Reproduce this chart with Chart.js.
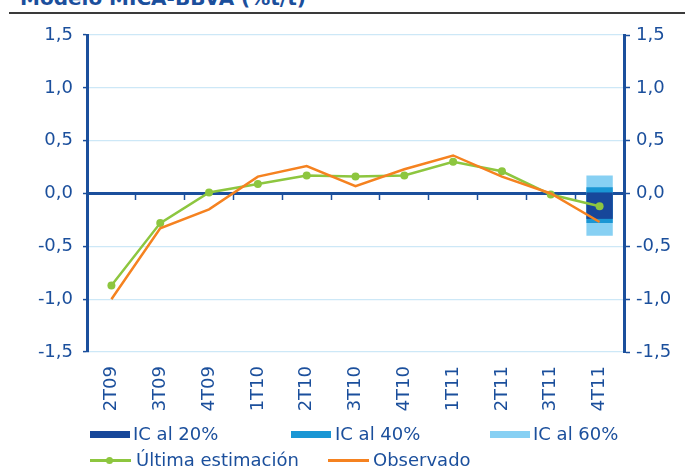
<!DOCTYPE html>
<html>
<head>
<meta charset="utf-8">
<script src="https://cdn.jsdelivr.net/npm/chart.js@4.4.1/dist/chart.umd.min.js"></script>
<style>
  html, body { margin: 0; padding: 0; background: #fff; }
  body { width: 685px; height: 469px; position: relative; overflow: hidden; font-family: "DejaVu Sans", sans-serif; }
  #title { position: absolute; left: 20px; top: -14px; font-size: 20px; font-weight: bold; color: #1B4F9C; white-space: nowrap; }
  #rule { position: absolute; left: 9px; right: 0; top: 12px; height: 2px; background: #3a3a3a; }
  #wrap { position: absolute; left: 0; top: 0; width: 685px; height: 469px; }
  .leg { position: absolute; font-size: 18px; color: #1B4F9C; white-space: nowrap; line-height: 20px; }
  .leg .box { position: absolute; left: 0; top: 7px; width: 40px; height: 7px; }
  .leg .ln { position: absolute; left: 0; top: 9px; width: 41px; height: 3px; }
  .leg .dot { position: absolute; left: 16px; top: 7px; width: 7px; height: 7px; border-radius: 50%; }
  .leg span.t { position: absolute; top: 0; }
</style>
</head>
<body>
<div id="title">Modelo MICA-BBVA (%t/t)</div>
<div id="rule"></div>
<div id="wrap"><canvas id="chart" width="685" height="469"></canvas></div>
<div id="legend"></div>
<script>
const categories = ['2T09', '3T09', '4T09', '1T10', '2T10', '3T10', '4T10', '1T11', '2T11', '3T11', '4T11'];
const ultimaEstimacion = [-0.87, -0.28, 0.01, 0.09, 0.17, 0.16, 0.17, 0.30, 0.21, -0.01, -0.12];
const observado = [-1.00, -0.33, -0.15, 0.16, 0.26, 0.07, 0.23, 0.36, 0.16, 0.00, -0.27];
// confidence intervals for the last quarter only: [low, high]
const ic20 = [-0.24, 0.01];
const ic40 = [-0.28, 0.06];
const ic60 = [-0.40, 0.17];
const yTicks = [-1.5, -1.0, -0.5, 0.0, 0.5, 1.0, 1.5];

const blue = '#1B4F9C';
const gridBlue = '#CDE8F7';
const green = '#8DC63F';
const orange = '#F58220';
const c20 = '#17479A';
const c40 = '#1A96D4';
const c60 = '#87D0F3';
const tickFont = { size: 18, family: '"DejaVu Sans", sans-serif' };

function lastOnly(range) {
  return categories.map((c, i) => i === categories.length - 1 ? range : null);
}
function fmt(v) {
  return v.toFixed(1).replace('.', ',');
}

const barOpts = { type: 'bar', grouped: false, categoryPercentage: 1, barPercentage: 0.54, borderWidth: 0 };

new Chart(document.getElementById('chart'), {
  data: {
    labels: categories,
    datasets: [
      { type: 'line', label: 'Última estimación', data: ultimaEstimacion, borderColor: green, backgroundColor: green,
        borderWidth: 2.5, pointRadius: 4, pointHoverRadius: 4, pointBorderWidth: 0, tension: 0, order: 1 },
      { type: 'line', label: 'Observado', data: observado, borderColor: orange, backgroundColor: orange,
        borderWidth: 2.5, pointRadius: 0, tension: 0, order: 0 },
      Object.assign({ label: 'IC al 20%', data: lastOnly(ic20), backgroundColor: c20, order: 2 }, barOpts),
      Object.assign({ label: 'IC al 40%', data: lastOnly(ic40), backgroundColor: c40, order: 3 }, barOpts),
      Object.assign({ label: 'IC al 60%', data: lastOnly(ic60), backgroundColor: c60, order: 4 }, barOpts)
    ]
  },
  options: {
    responsive: false,
    animation: false,
    layout: { padding: { top: 35, left: 0, right: 0, bottom: 57 } },
    plugins: { legend: { display: false }, tooltip: { enabled: false } },
    scales: {
      x: {
        type: 'category',
        offset: true,
        grid: { display: false },
        border: { display: false },
        ticks: { color: blue, font: tickFont, minRotation: 90, maxRotation: 90, autoSkip: false, padding: 6 },
        afterFit: s => { s.height = 60; }
      },
      x2: {
        type: 'category',
        labels: categories,
        offset: true,
        position: { y: 0 },
        grid: { offset: true, drawOnChartArea: false, drawTicks: true, tickLength: 6, tickColor: blue, tickWidth: 1.5 },
        border: { display: false },
        ticks: { display: false }
      },
      y: {
        position: 'left',
        min: -1.5, max: 1.5,
        afterBuildTicks: s => { s.ticks = yTicks.map(v => ({ value: v })); },
        grid: {
          color: c => c.tick && c.tick.value === 0 ? blue : gridBlue,
          lineWidth: c => c.tick && c.tick.value === 0 ? 3 : 1.2,
          tickColor: blue, tickLength: 4, tickWidth: 1.5
        },
        border: { display: true, color: blue, width: 3 },
        ticks: { color: blue, font: tickFont, padding: 10, callback: v => fmt(v) },
        afterFit: s => { s.width = 87; }
      },
      y2: {
        position: 'right',
        min: -1.5, max: 1.5,
        afterBuildTicks: s => { s.ticks = yTicks.map(v => ({ value: v })); },
        grid: { drawOnChartArea: false, tickColor: blue, tickLength: 6, tickWidth: 1.5 },
        border: { display: true, color: blue, width: 3 },
        ticks: { color: blue, font: tickFont, padding: 6, callback: v => fmt(v) },
        afterFit: s => { s.width = 61; }
      }
    }
  }
});

// legend, built from the series labels/colours
const legendItems = [
  { label: 'IC al 20%', kind: 'box', color: c20, x: 90, y: 424, tx: 43 },
  { label: 'IC al 40%', kind: 'box', color: c40, x: 291, y: 424, tx: 44 },
  { label: 'IC al 60%', kind: 'box', color: c60, x: 490, y: 424, tx: 43 },
  { label: 'Última estimación', kind: 'dot', color: green, x: 90, y: 450, tx: 46 },
  { label: 'Observado', kind: 'line', color: orange, x: 328, y: 450, tx: 45 }
];
const legend = document.getElementById('legend');
legendItems.forEach(it => {
  const d = document.createElement('div');
  d.className = 'leg';
  d.style.left = it.x + 'px';
  d.style.top = it.y + 'px';
  let mark = '';
  if (it.kind === 'box') mark = '<div class="box" style="background:' + it.color + '"></div>';
  else mark = '<div class="ln" style="background:' + it.color + '"></div>' +
    (it.kind === 'dot' ? '<div class="dot" style="background:' + it.color + '"></div>' : '');
  d.innerHTML = mark + '<span class="t" style="left:' + it.tx + 'px">' + it.label + '</span>';
  legend.appendChild(d);
});
</script>
</body>
</html>
